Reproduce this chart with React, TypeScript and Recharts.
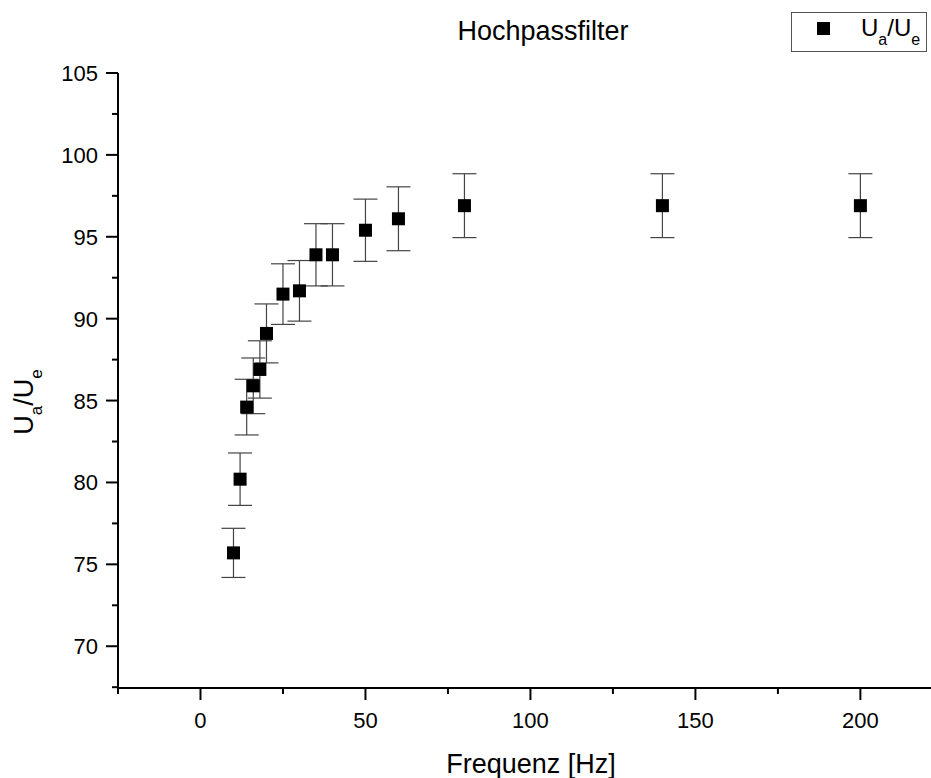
import { Customized, ErrorBar, Scatter, ScatterChart, XAxis, YAxis } from "recharts";

const FONT = "'Liberation Sans', Arial, sans-serif";

// Frequenz [Hz]
const freq = [10, 12, 14, 16, 18, 20, 25, 30, 35, 40, 50, 60, 80, 140, 200];
// U_a/U_e
const ratio = [75.7, 80.2, 84.6, 85.9, 86.9, 89.1, 91.5, 91.7, 93.9, 93.9, 95.4, 96.1, 96.9, 96.9, 96.9];
const ratioErr = [1.5, 1.6, 1.7, 1.7, 1.75, 1.8, 1.85, 1.85, 1.9, 1.9, 1.9, 1.95, 1.95, 1.95, 1.95];

const xTicks = [-25, 0, 25, 50, 75, 100, 125, 150, 175, 200];
const yTicks = [67.5, 70, 72.5, 75, 77.5, 80, 82.5, 85, 87.5, 90, 92.5, 95, 97.5, 100, 102.5, 105];

const data = freq.map((f, i) => ({ f, r: ratio[i], err: ratioErr[i] }));

function XTick({ x, y, payload }: any) {
  const major = payload.value % 50 === 0;
  return (
    <g>
      <line x1={x} x2={x} y1={y} y2={y + (major ? 12 : 6)} stroke="#000" strokeWidth={2} />
      {major && (
        <text x={x} y={y + 40} textAnchor="middle" fontSize={22} fontFamily={FONT} fill="#000">
          {payload.value}
        </text>
      )}
    </g>
  );
}

function YTick({ x, y, payload }: any) {
  const major = payload.value % 5 === 0;
  return (
    <g>
      <line x1={x} x2={x - (major ? 12 : 6)} y1={y} y2={y} stroke="#000" strokeWidth={2} />
      {major && (
        <text x={x - 20} y={y + 8} textAnchor="end" fontSize={22} fontFamily={FONT} fill="#000">
          {payload.value}
        </text>
      )}
    </g>
  );
}

function Square({ cx, cy }: any) {
  return <rect x={cx - 6.5} y={cy - 6.5} width={13} height={13} fill="#000" />;
}

function Labels() {
  return (
    <g fontFamily={FONT} fill="#000">
      <text x={543} y={40} textAnchor="middle" fontSize={27}>
        Hochpassfilter
      </text>
      <text x={531} y={773} textAnchor="middle" fontSize={27}>
        Frequenz [Hz]
      </text>
      <text x={33} y={402} textAnchor="middle" fontSize={27} transform="rotate(-90 33 402)">
        <tspan>U</tspan>
        <tspan dy={9} fontSize={17}>a</tspan>
        <tspan dy={-9}>/U</tspan>
        <tspan dy={9} fontSize={17}>e</tspan>
      </text>
      <rect x={791.5} y={12.5} width={135} height={39} fill="#fff" stroke="#555" strokeWidth={1} />
      <rect x={817} y={22} width={13} height={13} fill="#000" />
      <text x={861} y={36} fontSize={24}>
        <tspan>U</tspan>
        <tspan dy={9} fontSize={16}>a</tspan>
        <tspan dy={-9}>/U</tspan>
        <tspan dy={9} fontSize={16}>e</tspan>
      </text>
    </g>
  );
}

export default function App() {
  return (
    <div style={{ position: "absolute", left: 0, top: 0, background: "#fff" }}>
      <ScatterChart width={931} height={778} margin={{ top: 73, right: 0, left: 0, bottom: 0 }}>
        <XAxis
          type="number"
          dataKey="f"
          domain={[-25, 221.4]}
          ticks={xTicks}
          interval={0}
          height={90}
          tickLine={false}
          tickSize={0}
          tickMargin={0}
          tick={<XTick />}
          axisLine={{ stroke: "#000", strokeWidth: 2 }}
          allowDataOverflow
        />
        <YAxis
          type="number"
          dataKey="r"
          domain={[67.45, 105]}
          ticks={yTicks}
          interval={0}
          width={118}
          tickLine={false}
          tickSize={0}
          tickMargin={0}
          tick={<YTick />}
          axisLine={{ stroke: "#000", strokeWidth: 2 }}
          allowDataOverflow
        />
        <Scatter data={data} shape={<Square />} isAnimationActive={false}>
          <ErrorBar dataKey="err" direction="y" width={12} stroke="#444" strokeWidth={1.2} />
        </Scatter>
        <Customized component={Labels} />
      </ScatterChart>
    </div>
  );
}
